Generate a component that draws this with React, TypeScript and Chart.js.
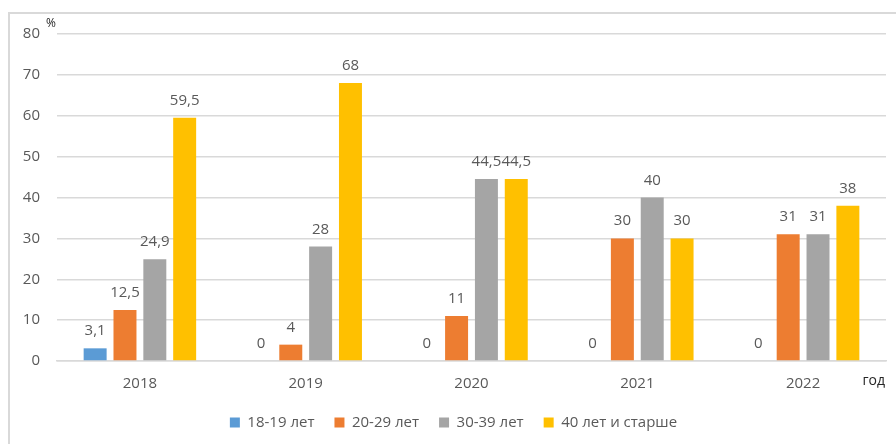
import React, { useEffect, useRef } from "react";
import { Chart, registerables } from "chart.js";

Chart.register(...registerables);

const categories = ["2018", "2019", "2020", "2021", "2022"];
const seriesNames = ["18-19 лет", "20-29 лет", "30-39 лет", "40 лет и старше"];
const age18to19 = [3.1, 0, 0, 0, 0];
const age20to29 = [12.5, 4, 11, 30, 31];
const age30to39 = [24.9, 28, 44.5, 40, 31];
const age40plus = [59.5, 68, 44.5, 30, 38];
const seriesColors = ["#5B9BD5", "#ED7D31", "#A5A5A5", "#FFC000"];
const yMin = 0;
const yMax = 80;
const yStep = 10;
const yUnit = "%";
const xUnit = "год";

const FONT = "'Open Sans', 'DejaVu Sans', sans-serif";
const TEXT = "#595959";

const fmt = (v: number) => String(v).replace(".", ",");

const labelsPlugin = {
  id: "barLabels",
  afterDatasetsDraw(chart: any) {
    const ctx = chart.ctx;
    ctx.save();
    ctx.font = `15px ${FONT}`;
    ctx.fillStyle = TEXT;
    ctx.textAlign = "center";
    ctx.textBaseline = "alphabetic";
    chart.data.datasets.forEach((ds: any, di: number) => {
      const meta = chart.getDatasetMeta(di);
      meta.data.forEach((el: any, i: number) => {
        ctx.fillText(fmt(ds.data[i]), el.x, el.y - 13);
      });
    });
    const a = chart.chartArea;
    ctx.font = `12px ${FONT}`;
    ctx.fillStyle = "#262626";
    ctx.textAlign = "left";
    ctx.textBaseline = "middle";
    ctx.fillText(yUnit, a.left - 11, 24);
    ctx.font = `14px ${FONT}`;
    ctx.textAlign = "right";
    ctx.fillText(xUnit, a.right - 1, 381);
    ctx.restore();
  },
};

export default function App() {
  const ref = useRef<HTMLCanvasElement | null>(null);
  useEffect(() => {
    if (!ref.current) return;
    const series = [age18to19, age20to29, age30to39, age40plus];
    const chart = new Chart(ref.current, {
      type: "bar",
      data: {
        labels: categories,
        datasets: series.map((d, i) => ({
          label: seriesNames[i],
          data: d,
          backgroundColor: seriesColors[i],
          borderWidth: 0,
          categoryPercentage: 0.72,
          barPercentage: 0.77,
        })),
      },
      options: {
        animation: false,
        responsive: true,
        maintainAspectRatio: false,
        layout: { padding: { left: 21, right: 10, top: 34, bottom: 4 } },
        plugins: {
          tooltip: { enabled: false },
          legend: {
            position: "bottom",
            labels: {
              boxWidth: 10,
              boxHeight: 10,
              padding: 20,
              color: TEXT,
              font: { family: FONT, size: 15 },
            },
          },
        },
        scales: {
          x: {
            grid: { display: false, drawTicks: false },
            border: { display: true, color: "#d9d9d9", width: 1.5 },
            ticks: { color: TEXT, font: { family: FONT, size: 15 }, padding: 14 },
            afterFit: (s: any) => {
              s.height = 34;
            },
          },
          y: {
            min: yMin,
            max: yMax,
            grid: { color: "#d9d9d9", lineWidth: 1.5, drawTicks: false },
            border: { display: false },
            ticks: {
              stepSize: yStep,
              color: TEXT,
              font: { family: FONT, size: 15 },
              padding: 17,
            },
            afterFit: (s: any) => {
              s.width = 36;
            },
          },
        },
      },
      plugins: [labelsPlugin],
    } as any);
    return () => chart.destroy();
  }, []);

  return (
    <div style={{ position: "fixed", left: 0, top: 0, width: 896, height: 444, background: "#fff" }}>
      <div
        style={{
          position: "absolute",
          left: 8,
          top: 12,
          right: 0,
          bottom: 0,
          borderTop: "2px solid #d9d9d9",
          borderLeft: "2px solid #d9d9d9",
        }}
      />
      <div style={{ position: "absolute", left: 0, top: 0, width: 896, height: 444 }}>
        <canvas ref={ref} />
      </div>
    </div>
  );
}
